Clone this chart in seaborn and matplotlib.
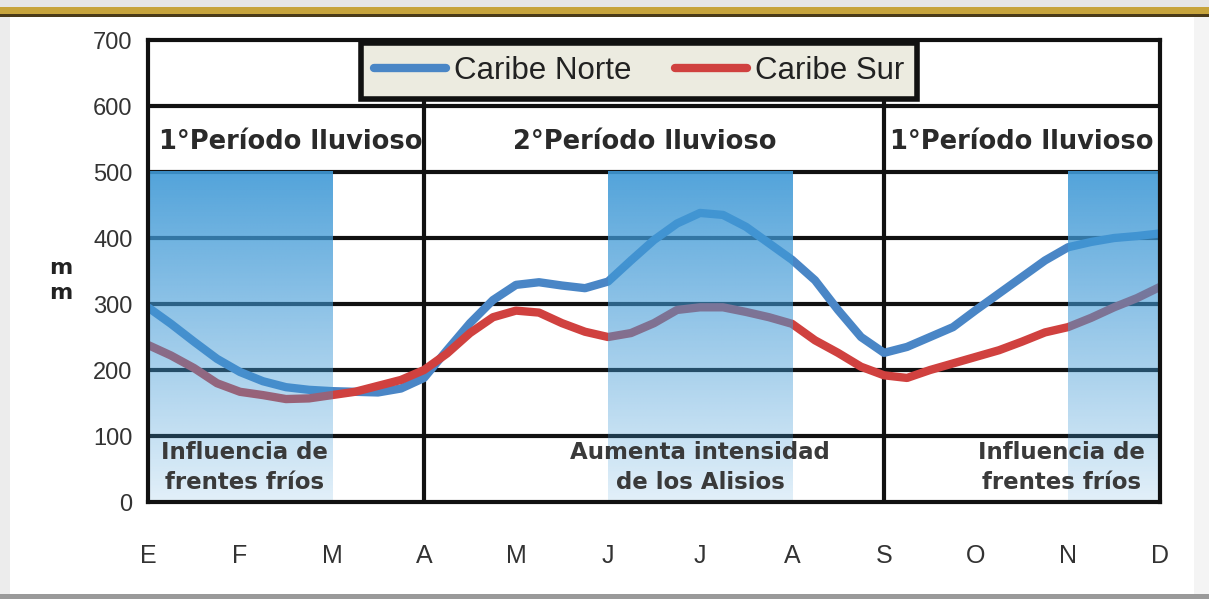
import numpy as np
import pandas as pd
import matplotlib
matplotlib.use("Agg")
import matplotlib.pyplot as plt
import matplotlib.patches as mpatches
import seaborn as sns

# Monthly precipitation (mm), sampled every quarter month from January to December
months = ["E", "F", "M", "A", "M", "J", "J", "A", "S", "O", "N", "D"]
month_pos = list(np.arange(0, 11.01, 0.25))
caribe_norte = [295, 270, 243, 217, 197, 183, 174, 170, 168, 167, 166, 172,
                188, 230, 271, 306, 329, 333, 328, 324, 334, 366, 397, 422,
                438, 435, 417, 392, 367, 336, 291, 250, 226, 235, 250, 265,
                291, 316, 341, 366, 386, 394, 400, 403, 407]
caribe_sur = [238, 222, 203, 180, 167, 162, 156, 157, 162, 167, 176, 185,
              200, 225, 256, 280, 290, 287, 271, 258, 250, 256, 271, 291,
              295, 295, 288, 280, 270, 245, 226, 205, 192, 188, 200, 210,
              220, 230, 243, 257, 265, 279, 295, 309, 326]

# Shaded seasons (month index ranges) and labels
shade_spans = [(0, 2), (5, 7), (10, 11)]
period_titles = ["1°Período lluvioso", "2°Período lluvioso", "1°Período lluvioso"]
period_x = [1.55, 5.4, 9.5]
notes = ["Influencia de\nfrentes fríos", "Aumenta intensidad\nde los Alisios",
         "Influencia de\nfrentes fríos"]
notes_x = [1.05, 6.0, 9.93]
dividers = [3, 8]

norte_color = "#4a86c6"
sur_color = "#d0413f"

df = pd.DataFrame({
    "mes": month_pos * 2,
    "mm": caribe_norte + caribe_sur,
    "serie": ["Caribe Norte"] * len(month_pos) + ["Caribe Sur"] * len(month_pos),
})

sns.set_theme(style="white")
plt.rcParams["font.family"] = ["DejaVu Sans"]

fig = plt.figure(figsize=(12.09, 5.99), dpi=100)
fig.patch.set_facecolor("white")
ax = fig.add_axes([0.1224, 0.1619, 0.8371, 0.7713])

# slide frame decorations
fig.patches.append(mpatches.Rectangle((0, 0.972), 1, 0.028, transform=fig.transFigure,
                                      facecolor="#e6e6e6", edgecolor="none", zorder=0))
fig.patches.append(mpatches.Rectangle((0, 0.976), 1, 0.012, transform=fig.transFigure,
                                      facecolor="#c7a43c", edgecolor="none", zorder=1))
fig.patches.append(mpatches.Rectangle((0, 0.971), 1, 0.006, transform=fig.transFigure,
                                      facecolor="#4a3a18", edgecolor="none", zorder=1))
fig.patches.append(mpatches.Rectangle((0, 0), 0.008, 0.972, transform=fig.transFigure,
                                      facecolor="#ececec", edgecolor="none", zorder=0))
fig.patches.append(mpatches.Rectangle((0.988, 0), 0.012, 0.972, transform=fig.transFigure,
                                      facecolor="#f4f4f4", edgecolor="none", zorder=0))
fig.patches.append(mpatches.Rectangle((0, 0), 1, 0.008, transform=fig.transFigure,
                                      facecolor="#9a9a9a", edgecolor="none", zorder=0))

sns.lineplot(data=df, x="mes", y="mm", hue="serie",
             palette={"Caribe Norte": norte_color, "Caribe Sur": sur_color},
             linewidth=6, ax=ax, legend=False, zorder=2,
             solid_capstyle="round", solid_joinstyle="round")

# gridlines and period dividers
for yv in range(100, 700, 100):
    ax.axhline(yv, color="#111111", lw=3, zorder=1.5)
for xv in dividers:
    ax.axvline(xv, color="#111111", lw=3, zorder=1.5)

# gradient shading over the seasons
grad = np.linspace(0, 1, 256)[:, None]
rgba = np.zeros((256, 1, 4))
rgba[..., 0] = 0.25
rgba[..., 1] = 0.60
rgba[..., 2] = 0.84
rgba[..., 3] = 0.15 + 0.75 * grad
for x0, x1 in shade_spans:
    ax.imshow(rgba, extent=(x0, x1, 0, 500), origin="lower", aspect="auto",
              interpolation="bilinear", zorder=3)

for t, xv in zip(period_titles, period_x):
    ax.text(xv, 545, t, ha="center", va="center", fontsize=18.5, fontweight="bold",
            color="#2a2a2a", zorder=5)
for t, xv in zip(notes, notes_x):
    ax.text(xv, 52, t, ha="center", va="center", fontsize=16.5, fontweight="bold",
            color="#3a3a3a", linespacing=1.4, zorder=5)

ax.set_xlim(0, 11)
ax.set_ylim(0, 700)
ax.set_xticks(range(12))
ax.set_xticklabels(months)
ax.set_yticks(range(0, 701, 100))
ax.set_xlabel("")
ax.set_ylabel("")
ax.tick_params(axis="x", length=6, width=2, pad=24, labelsize=18, labelcolor="#333333",
               direction="out", color="#111111")
ax.tick_params(axis="y", length=8, width=2, pad=3, labelsize=17, labelcolor="#333333",
               direction="out", color="#111111")
for lab in ax.get_xticklabels() + ax.get_yticklabels():
    lab.set_fontfamily(["Liberation Sans", "DejaVu Sans"])
for sp in ax.spines.values():
    sp.set_visible(True)
    sp.set_color("#111111")
    sp.set_linewidth(3)
    sp.set_zorder(6)

ax.text(-0.086, 0.48, "m\nm", transform=ax.transAxes, ha="center", va="center",
        fontsize=16, fontweight="bold", color="#222222", linespacing=1.3)

# legend
handles = [plt.Line2D([], [], color=norte_color, lw=6, solid_capstyle="round"),
           plt.Line2D([], [], color=sur_color, lw=6, solid_capstyle="round")]
leg = ax.legend(handles, ["Caribe Norte", "Caribe Sur"], loc="upper center",
                bbox_to_anchor=(0.4855, 1.0), borderaxespad=0.1, ncol=2, frameon=True,
                fancybox=False, handlelength=2.3, columnspacing=1.4, handletextpad=0.25,
                borderpad=0.42,
                prop={"family": ["Liberation Sans", "DejaVu Sans"], "size": 22.5})
leg.get_frame().set_facecolor("#ecebe0")
leg.get_frame().set_edgecolor("#111111")
leg.get_frame().set_linewidth(4)
leg.get_frame().set_alpha(1)
leg.set_zorder(7)
for txt in leg.get_texts():
    txt.set_color("#222222")

fig.savefig("out.png", dpi=100)
